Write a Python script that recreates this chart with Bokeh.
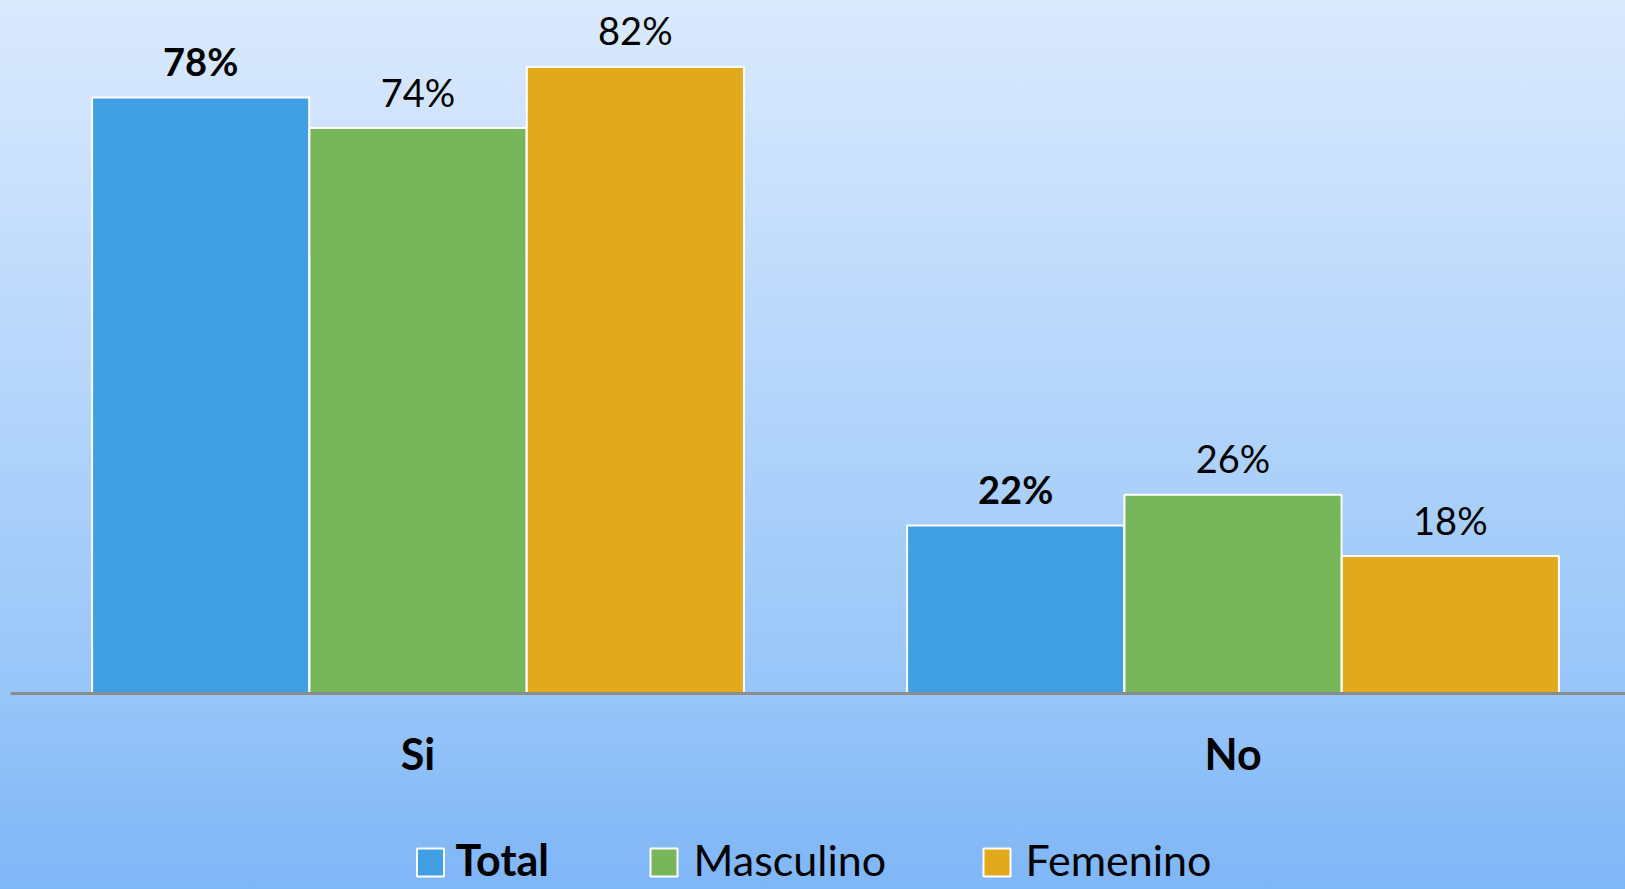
import numpy as np
from bokeh.plotting import figure
from bokeh.models import Range1d, ColumnDataSource
from bokeh.core.properties import value
from bokeh.embed import file_html
from bokeh.resources import INLINE

# ---- data ----
categories = ["Si", "No"]
series_names = ["Total", "Masculino", "Femenino"]
total = [78, 22]
masculino = [74, 26]
femenino = [82, 18]
series_values = [total, masculino, femenino]
series_colors = ["#419fe3", "#77b65a", "#e2a91c"]
series_bold = [True, False, False]

FONT = "Lato"

# ---- layout helpers (page pixel -> data coordinate) ----
X0, XS = 10.0, 815.0      # page x of x=0, pixels per category
Y0, YS = 693.0, 7.641     # page y of value 0, pixels per percent
W, H = 1625, 889
OFF = 0                   # canvas origin on the page
BL = 0.38                 # baseline correction (fraction of font size)


def px_x(page_x):
    return (page_x - X0) / XS


def px_y(page_y):
    return (Y0 - page_y) / YS


p = figure(width=W, height=H, output_backend="svg", toolbar_location=None,
           x_range=Range1d(px_x(OFF), px_x(OFF + W)),
           y_range=Range1d(px_y(OFF + H), px_y(OFF)),
           x_axis_location=None, y_axis_location=None, min_border=0)
p.grid.grid_line_color = None
p.outline_line_color = None
p.background_fill_color = None
p.border_fill_color = None
p.styles = {"background-image": "linear-gradient(to bottom, #dbeafd 0%, #97c5f8 78%, #7fb6f6 100%)"}

n = len(series_names)
bar_w = 0.8 / n
centers = np.arange(len(categories)) + 0.5

LAB_FS = 38
for i, (name, vals, col, bold) in enumerate(zip(series_names, series_values, series_colors, series_bold)):
    xs = centers + (i - (n - 1) / 2) * bar_w
    src = ColumnDataSource(dict(x=xs, top=vals, lab=[f"{v}%" for v in vals]))
    p.vbar(x="x", top="top", bottom=0, width=bar_w * 0.999, source=src,
           fill_color=col, line_color="white", line_width=2)
    p.text(x="x", y="top", text="lab", source=src, y_offset=-22 - BL * LAB_FS,
           text_align="center", text_baseline="alphabetic",
           text_font=value(FONT), text_font_size=f"{LAB_FS}px",
           text_font_style="bold" if bold else "normal", text_color="black")

# axis line
p.segment(x0=[0], y0=[0], x1=[len(categories)], y1=[0], line_color="#8c8c8c", line_width=3)

# category labels
CAT_FS = 43
p.text(x=centers, y=[0] * len(categories), text=categories, y_offset=76 - BL * CAT_FS,
       text_align="center", text_baseline="alphabetic",
       text_font=value(FONT), text_font_size=f"{CAT_FS}px", text_font_style="bold",
       text_color="black")

# legend (manual, so "Total" can be bold)
LEG_FS = 43
sq_x = [430, 663.5, 996.5]
tx_x = [455, 693, 1025]
for name, col, bold, sx, tx in zip(series_names, series_colors, series_bold, sq_x, tx_x):
    p.rect(x=[px_x(sx)], y=[px_y(862)], width=27, height=28,
           width_units="screen", height_units="screen",
           fill_color=col, line_color="white", line_width=2)
    p.text(x=[px_x(tx)], y=[px_y(875)], text=[name], y_offset=-BL * LEG_FS,
           text_align="left", text_baseline="alphabetic",
           text_font=value(FONT), text_font_size=f"{LEG_FS}px",
           text_font_style="bold" if bold else "normal", text_color="black")

open("out.html", "w").write(file_html(p, INLINE))
